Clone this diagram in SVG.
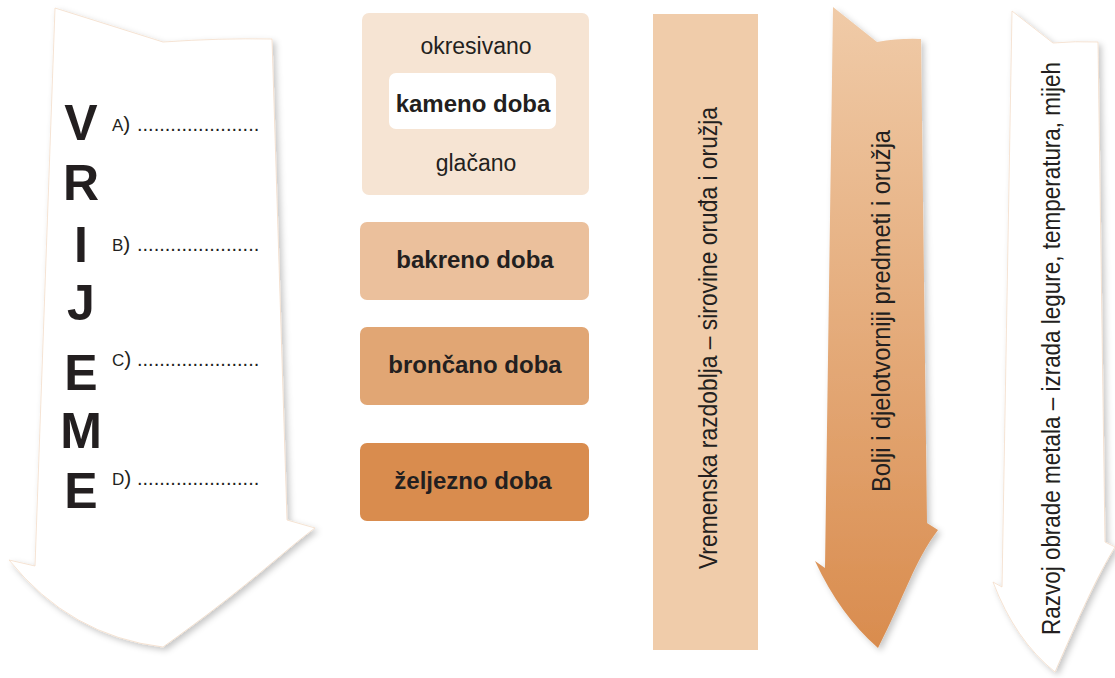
<svg xmlns="http://www.w3.org/2000/svg" width="1115" height="678" viewBox="0 0 1115 678">
  <defs>
    <filter id="shadow" x="-10%" y="-5%" width="125%" height="115%">
      <feDropShadow dx="3" dy="3" stdDeviation="3" flood-color="#000000" flood-opacity="0.22"/>
    </filter>
    <linearGradient id="orangeGrad" x1="0" y1="0" x2="0" y2="1">
      <stop offset="0" stop-color="#F0CBA8"/>
      <stop offset="1" stop-color="#D98C4E"/>
    </linearGradient>
    <style>
      .big { font-family: "Liberation Sans", Arial, sans-serif; font-weight: bold; font-size: 50px; fill: #231F20; text-anchor: middle; }
      .lbl { font-family: "Liberation Sans", Arial, sans-serif; font-size: 21px; fill: #231F20; }
      .cap { font-size: 17px; }
      .dots { font-size: 20px; }
      .box { font-family: "Liberation Sans", Arial, sans-serif; font-weight: bold; font-size: 24px; fill: #231F20; text-anchor: middle; }
      .reg { font-family: "Liberation Sans", Arial, sans-serif; font-size: 23px; fill: #231F20; text-anchor: middle; }
      .vert { font-family: "Liberation Sans", Arial, sans-serif; font-size: 25px; fill: #231F20; }
      .arrowW { fill: #FFFFFF; stroke: #F4DDC9; stroke-width: 0.8; filter: url(#shadow); }
    </style>
  </defs>
  <rect width="1115" height="678" fill="#FFFFFF"/>

  <g id="vrijeme-arrow">
    <path class="arrowW" d="M55,8 L163,42 Q220,38 272,39 L287,520 L315,528 C285,550 250,585 163,647 Q70,636 9,560 L35,566 Z"/>
    <text class="big" x="81" y="140">V</text>
    <text class="big" x="81" y="200">R</text>
    <text class="big" x="81" y="262">I</text>
    <text class="big" x="81" y="320">J</text>
    <text class="big" x="81" y="390">E</text>
    <text class="big" x="81" y="448">M</text>
    <text class="big" x="81" y="508">E</text>
    <text class="lbl" x="112" y="131"><tspan class="cap">A</tspan>) <tspan class="dots" x="137">......................</tspan></text>
    <text class="lbl" x="112" y="251"><tspan class="cap">B</tspan>) <tspan class="dots" x="137">......................</tspan></text>
    <text class="lbl" x="112" y="366"><tspan class="cap">C</tspan>) <tspan class="dots" x="137">......................</tspan></text>
    <text class="lbl" x="112" y="485"><tspan class="cap">D</tspan>) <tspan class="dots" x="137">......................</tspan></text>
  </g>

  <g id="kameno-doba">
    <rect x="362" y="13" width="227" height="182" rx="7" fill="#F6E4D3"/>
    <rect x="389" y="73" width="167" height="56" rx="7" fill="#FFFFFF"/>
    <text class="reg" x="476" y="54">okresivano</text>
    <text class="box" x="473" y="112">kameno doba</text>
    <text class="reg" x="476" y="171">glačano</text>
  </g>
  <g id="bakreno-doba">
    <rect x="360" y="222" width="229" height="78" rx="7" fill="#EBC09C"/>
    <text class="box" x="475" y="268">bakreno doba</text>
  </g>
  <g id="broncano-doba">
    <rect x="360" y="327" width="229" height="78" rx="7" fill="#E1A674"/>
    <text class="box" x="475" y="373">brončano doba</text>
  </g>
  <g id="zeljezno-doba">
    <rect x="360" y="443" width="229" height="78" rx="7" fill="#D98C4E"/>
    <text class="box" x="473" y="489">željezno doba</text>
  </g>

  <g id="vremenska-razdoblja">
    <rect x="653" y="14" width="105" height="636" fill="#F0CCAA"/>
    <text class="vert" transform="translate(717,569) rotate(-90)" textLength="462" lengthAdjust="spacingAndGlyphs">Vremenska razdoblja – sirovine oruđa i oružja</text>
  </g>

  <g id="bolji-predmeti">
    <path fill="url(#orangeGrad)" filter="url(#shadow)" d="M833,7 L877,42 Q900,38 921,39 L927,523 L938,530 C915,560 905,595 878,648 Q840,615 815,561 L825,568 Z"/>
    <text class="vert" transform="translate(890,492) rotate(-90)" textLength="362" lengthAdjust="spacingAndGlyphs">Bolji i djelotvorniji predmeti i oružja</text>
  </g>

  <g id="razvoj-obrade">
    <path class="arrowW" d="M1012,11 L1053,43 Q1075,41 1098,42 L1105,542 L1115,547 C1095,580 1080,615 1055,672 Q1015,640 993,582 L1002,587 Z"/>
    <text class="vert" transform="translate(1060,635) rotate(-90)" textLength="573" lengthAdjust="spacingAndGlyphs">Razvoj obrade metala – izrada legure, temperatura, mijeh</text>
  </g>

  <g id="connectors"></g>
</svg>
